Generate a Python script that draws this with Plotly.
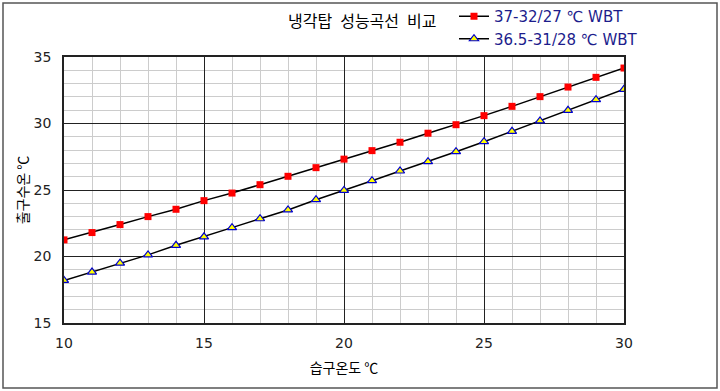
import plotly.graph_objects as go

x_vals = list(range(10, 31))
series1_name = "37-32/27 ℃ WBT"
series1 = [21.25, 21.8, 22.4, 23.0, 23.55, 24.2, 24.77, 25.4, 26.03, 26.68, 27.32,
           27.96, 28.59, 29.27, 29.91, 30.59, 31.29, 32.02, 32.74, 33.47, 34.17]
series2_name = "36.5-31/28 ℃ WBT"
series2 = [18.2, 18.83, 19.5, 20.12, 20.84, 21.48, 22.17, 22.84, 23.5, 24.27, 24.97,
           25.7, 26.43, 27.13, 27.88, 28.63, 29.41, 30.19, 30.99, 31.79, 32.57]

title_text = "냉각탑\u2002성능곡선\u2002비교"
x_title = "습구온도 ℃"
y_title = "출구수온 ℃"

FONT = "Noto Sans CJK KR, DejaVu Sans, sans-serif"
NUMFONT = "DejaVu Sans, Noto Sans CJK KR, sans-serif"

fig = go.Figure()
fig.add_trace(go.Scatter(
    x=x_vals, y=series1, name=series1_name, mode="lines+markers",
    line=dict(color="black", width=1.5),
    marker=dict(symbol="square", size=7, color="#ff0000", line=dict(color="#ff0000", width=0)),
))
fig.add_trace(go.Scatter(
    x=x_vals, y=series2, name=series2_name, mode="lines+markers",
    line=dict(color="black", width=1.5),
    marker=dict(symbol="triangle-up", size=8, color="#ffff00", line=dict(color="#0000cc", width=1.2)),
))

L, R, T, B = 64, 96, 57, 68
W, H = 720, 391
pw = W - L - R
ph = H - T - B

fig.update_layout(
    width=W, height=H,
    margin=dict(l=L, r=R, t=T, b=B, autoexpand=False),
    paper_bgcolor="white", plot_bgcolor="white",
    font=dict(family=FONT, size=13, color="#222"),
    showlegend=True,
    legend=dict(
        xref="container", yref="container",
        x=454 / W, y=1 - 0 / H, xanchor="left", yanchor="top",
        font=dict(family=NUMFONT, size=15, color="#1c1c8c"),
        bgcolor="rgba(0,0,0,0)", tracegroupgap=0, itemwidth=30,
    ),
    annotations=[dict(
        text=title_text, xref="paper", yref="paper",
        x=(362 - L) / pw, y=(H - B - 20) / ph, xanchor="center", yanchor="middle",
        showarrow=False, font=dict(family=FONT, size=16, color="black"),
    )],
    shapes=[dict(
        type="rect", xref="paper", yref="paper",
        x0=(3 - L) / pw, x1=(717 - L) / pw,
        y0=(H - B - 388) / ph, y1=(H - B - 3) / ph,
        line=dict(color="#555", width=1.5), fillcolor="rgba(0,0,0,0)", layer="above",
    )],
)

fig.update_xaxes(
    range=[10, 30], dtick=5, tick0=10,
    showgrid=True, gridcolor="#222", gridwidth=1,
    minor=dict(dtick=1, showgrid=True, gridcolor="#cccccc", gridwidth=1),
    showline=True, linecolor="#222", linewidth=1.5, mirror=True,
    zeroline=False, ticks="", ticklabelstandoff=6,
    tickfont=dict(family=NUMFONT, size=14, color="#222"),
    title=dict(text=x_title, font=dict(family=FONT, size=14, color="black"), standoff=14),
)
fig.update_yaxes(
    range=[15, 35], dtick=5, tick0=15,
    showgrid=True, gridcolor="#222", gridwidth=1,
    minor=dict(dtick=1, showgrid=True, gridcolor="#cccccc", gridwidth=1),
    showline=True, linecolor="#222", linewidth=1.5, mirror=True,
    zeroline=False, ticks="", ticklabelstandoff=8,
    tickfont=dict(family=NUMFONT, size=14, color="#222"),
    title=dict(text=y_title, font=dict(family=FONT, size=14, color="black"), standoff=2),
)

fig.write_html("out.html", config={"displayModeBar": False},
               post_script="document.body.style.margin='0';")
